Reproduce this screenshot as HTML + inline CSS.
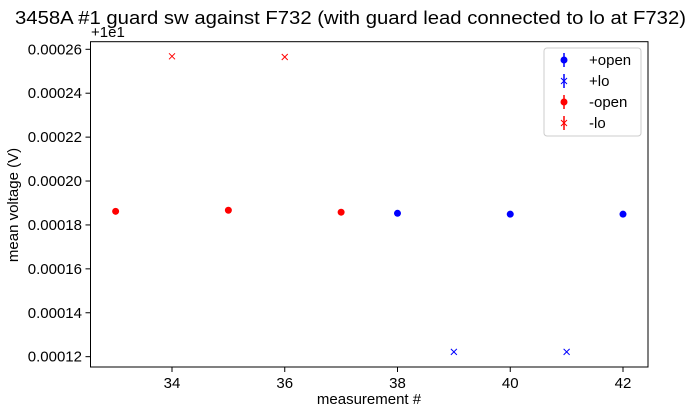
<!DOCTYPE html>
<html><head><meta charset="utf-8"><style>
body{margin:0;background:#fff;}
svg{display:block;font-family:"Liberation Sans","DejaVu Sans",sans-serif;}
</style></head><body>
<svg id="chart" width="694" height="413" viewBox="0 0 694 413" xmlns="http://www.w3.org/2000/svg">
<text x="15" y="24" font-size="18" textLength="671" lengthAdjust="spacingAndGlyphs">3458A #1 guard sw against F732 (with guard lead connected to lo at F732)</text>
<text x="91" y="37" font-size="15">+1e1</text>
<text x="369" y="404" font-size="15" text-anchor="middle">measurement #</text>
<text transform="translate(18,205) rotate(-90)" font-size="15" text-anchor="middle">mean voltage (V)</text>
<g id="ticks"></g>
<g id="marks"></g>
<rect x="90.5" y="41.7" width="557.5" height="325.3" fill="none" stroke="#000" stroke-width="1"/>
<g>
<rect x="544" y="48" width="97" height="88" rx="3" fill="#fff" stroke="#ccc"/>
<g><line x1="564" y1="53" x2="564" y2="67" stroke="blue" stroke-width="1.5"/><circle cx="564" cy="60" r="3.5" fill="blue"/><text x="589" y="65" font-size="15">+open</text></g>
<g><line x1="564" y1="74" x2="564" y2="88" stroke="blue" stroke-width="1.5"/><path d="M561 78l6 6M567 78l-6 6" stroke="blue"/><text x="589" y="86" font-size="15">+lo</text></g>
<g><line x1="564" y1="95" x2="564" y2="109" stroke="red" stroke-width="1.5"/><circle cx="564" cy="102" r="3.5" fill="red"/><text x="589" y="107" font-size="15">-open</text></g>
<g><line x1="564" y1="116" x2="564" y2="130" stroke="red" stroke-width="1.5"/><path d="M561 120l6 6M567 120l-6 6" stroke="red"/><text x="589" y="128" font-size="15">-lo</text></g>
</g>
</svg>
<script>
const measurements=[33,34,35,36,37,38,39,40,41,42];
const values=[0.0001862,0.0002568,0.0001867,0.0002565,0.0001858,0.0001853,0.0001222,0.0001849,0.0001222,0.0001849];
const seriesNames=['-open','-lo','-open','-lo','-open','+open','+lo','+open','+lo','+open'];
const xTicks=[34,36,38,40,42];
const yTicks=[0.00012,0.00014,0.00016,0.00018,0.00020,0.00022,0.00024,0.00026];
const yTickLabels=['0.00012','0.00014','0.00016','0.00018','0.00020','0.00022','0.00024','0.00026'];
const NS='http://www.w3.org/2000/svg';
function xs(v){return 172+(v-34)*56.375;}
function ys(v){return 49.3+(0.00026-v)/0.00002*43.91;}
const tg=document.getElementById('ticks'),mg=document.getElementById('marks');
function mk(t,a,p){const e=document.createElementNS(NS,t);for(const k in a)e.setAttribute(k,a[k]);p.appendChild(e);return e;}
xTicks.forEach(v=>{
  const l=mk('line',{x1:xs(v),x2:xs(v),y1:367,y2:372,stroke:'#000'},tg);
  
  
  const t=mk('text',{x:xs(v),y:388,'font-size':15,'text-anchor':'middle'},tg);t.textContent=v;
  
  
});
yTicks.forEach((v,i)=>{
  const l=mk('line',{x1:85.5,x2:90.5,y1:ys(v),y2:ys(v),stroke:'#000'},tg);
  
  
  const t=mk('text',{x:82,y:ys(v)+5,'font-size':15,'text-anchor':'end'},tg);t.textContent=yTickLabels[i];
  
  
});
measurements.forEach((m,i)=>{
  const s=seriesNames[i],c=s[0]=='+'?'blue':'red',x=xs(m),y=ys(values[i]);
  let e;
  if(s.endsWith('open')) e=mk('circle',{cx:x,cy:y,r:3.5,fill:c},mg);
  else e=mk('path',{d:`M${x-3} ${y-3}l6 6M${x+3} ${y-3}l-6 6`,stroke:c,fill:'none'},mg);
  
  
});
</script>
</body></html>
